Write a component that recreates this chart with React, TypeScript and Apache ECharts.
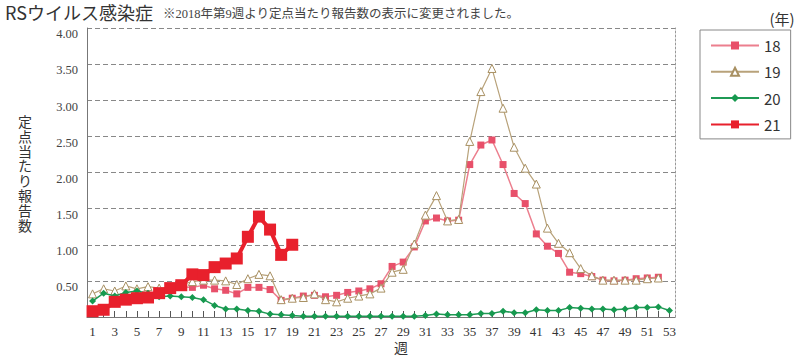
import React, { useEffect, useRef } from "react";
import * as echarts from "echarts";

const weeks: string[] = Array.from({ length: 53 }, (_, i) => String(i + 1));

const yTicks = [0, 0.5, 1, 1.5, 2, 2.5, 3, 3.5, 4];

const seriesNames = ["18", "19", "20", "21"];

const y2018: (number | null)[] = [
  null, null, null, null, null, null, null, null, 0.42, 0.41,
  0.44, 0.39, 0.37, 0.32, 0.41, 0.41, 0.38, 0.23, 0.26, 0.29,
  0.3, 0.28, 0.3, 0.34, 0.36, 0.39, 0.46, 0.7, 0.76, 0.97,
  1.33, 1.37, 1.33, 1.34, 2.11, 2.38, 2.45, 2.11, 1.71, 1.57,
  1.15, 0.98, 0.88, 0.62, 0.6, 0.56, 0.51, 0.5, 0.51, 0.53,
  0.54, 0.55, null,
];

const y2019: (number | null)[] = [
  0.32, 0.39, 0.36, 0.43, 0.39, 0.42, 0.4, 0.41, 0.45, 0.49,
  0.51, 0.51, 0.5, 0.45, 0.53, 0.59, 0.57, 0.24, 0.26, 0.27,
  0.32, 0.24, 0.21, 0.26, 0.29, 0.32, 0.4, 0.62, 0.66, 1.01,
  1.41, 1.68, 1.33, 1.35, 2.43, 3.12, 3.44, 2.89, 2.35, 2.06,
  1.84, 1.23, 1.02, 0.89, 0.67, 0.57, 0.51, 0.51, 0.51, 0.51,
  0.53, 0.54, null,
];

const y2020: number[] = [
  0.22, 0.33, 0.29, 0.34, 0.36, 0.33, 0.28, 0.29, 0.28, 0.27,
  0.24, 0.16, 0.11, 0.11, 0.09, 0.08, 0.04, 0.03, 0.02, 0.01,
  0.01, 0.01, 0.01, 0.01, 0.01, 0.01, 0.01, 0.01, 0.01, 0.01,
  0.02, 0.04, 0.03, 0.03, 0.03, 0.05, 0.05, 0.08, 0.06, 0.06,
  0.1, 0.09, 0.09, 0.13, 0.12, 0.11, 0.11, 0.1, 0.11, 0.13,
  0.13, 0.14, 0.09,
];

const y2021: number[] = [
  0.08, 0.1, 0.21, 0.24, 0.26, 0.27, 0.33, 0.4, 0.44, 0.59,
  0.58, 0.69, 0.74, 0.81, 1.11, 1.39, 1.21, 0.86, 1.0,
];

const titleText = "RSウイルス感染症";
const noteText = "※2018年第9週より定点当たり報告数の表示に変更されました。";
const yName = "定点当たり報告数";
const xName = "週";
const legendUnit = "(年)";

const serif = "Liberation Serif, DejaVu Serif, Noto Sans CJK JP, serif";
const sans = "Noto Sans CJK JP, Noto Sans, sans-serif";

export default function App() {
  const ref = useRef<HTMLDivElement>(null);

  useEffect(() => {
    if (!ref.current) return;
    const chart = echarts.init(ref.current, null, { renderer: "svg" });
    const yNameChars = yName.split("").map((ch, i) => ({
      type: "text",
      x: 25,
      y: 121 + i * 14.8,
      style: {
        text: ch,
        fontFamily: sans,
        fontSize: 14,
        lineHeight: 14,
        align: "center",
        verticalAlign: "middle",
        fill: "#333",
      },
    }));
    const option: any = {
      animation: false,
      backgroundColor: "#ffffff",
      grid: { left: 87, right: 125, top: 28, bottom: 42, containLabel: false },
      legend: {
        orient: "vertical",
        left: 700,
        top: 30,
        padding: [8, 10, 7, 10],
        itemGap: 11.3,
        itemWidth: 48,
        itemHeight: 10,
        borderColor: "#888",
        borderWidth: 1,
        textStyle: { fontFamily: sans, fontSize: 15, lineHeight: 14, color: "#333" },
        data: seriesNames,
      },
      xAxis: {
        type: "category",
        data: weeks,
        boundaryGap: true,
        axisLine: { lineStyle: { color: "#777", width: 1 } },
        axisTick: {
          show: true,
          inside: true,
          length: 6,
          alignWithLabel: true,
          interval: 0,
          lineStyle: { color: "#555" },
        },
        axisLabel: {
          interval: 1,
          fontFamily: serif,
          fontSize: 13,
          color: "#333",
          margin: 8,
        },
        splitLine: { show: false },
      },
      yAxis: [
        {
          type: "value",
          min: yTicks[0],
          max: yTicks[yTicks.length - 1],
          interval: 0.5,
          axisLine: { show: true, lineStyle: { color: "#777" } },
          axisTick: { show: false },
          axisLabel: {
            fontFamily: serif,
            fontSize: 12.5,
            color: "#444",
            margin: 9,
            verticalAlign: "top",
            formatter: (v: number) => (v === 0 ? "" : v.toFixed(2)),
          },
          splitLine: {
            show: true,
            lineStyle: { color: "#888", type: [5, 3], width: 1 },
          },
        },
        {
          type: "value",
          position: "right",
          min: yTicks[0],
          max: yTicks[yTicks.length - 1],
          interval: 0.5,
          axisLine: { show: true, lineStyle: { color: "#999", type: [2, 2] } },
          axisTick: { show: false },
          axisLabel: { show: false },
          splitLine: { show: false },
        },
      ],
      series: [
        {
          name: seriesNames[0],
          type: "line",
          data: y2018,
          symbol: "rect",
          symbolSize: 7,
          showAllSymbol: true,
          lineStyle: { color: "#ec7f8e", width: 1.5 },
          itemStyle: { color: "#e8506a" },
          connectNulls: false,
          z: 2,
        },
        {
          name: seriesNames[1],
          type: "line",
          data: y2019,
          symbol: "triangle",
          symbolSize: 8,
          showAllSymbol: true,
          lineStyle: { color: "#b8a27a", width: 1.2 },
          itemStyle: { color: "#ffffff", borderColor: "#a89062", borderWidth: 1 },
          z: 3,
        },
        {
          name: seriesNames[2],
          type: "line",
          data: y2020,
          symbol: "diamond",
          symbolSize: 7,
          showAllSymbol: true,
          lineStyle: { color: "#1f9a55", width: 1.5 },
          itemStyle: { color: "#16994f" },
          z: 4,
        },
        {
          name: seriesNames[3],
          type: "line",
          data: y2021,
          symbol: "rect",
          symbolSize: 12,
          showAllSymbol: true,
          lineStyle: { color: "#e8202c", width: 4 },
          itemStyle: { color: "#e8202c" },
          z: 5,
        },
      ],
      graphic: [
        {
          type: "text",
          x: 5,
          y: 12,
          style: {
            text: titleText,
            fontFamily: sans,
            fontSize: 18,
            lineHeight: 18,
            align: "left",
            verticalAlign: "middle",
            fill: "#333",
          },
        },
        {
          type: "text",
          x: 163,
          y: 14,
          style: {
            text: noteText,
            fontFamily: serif,
            fontSize: 12.5,
            lineHeight: 13,
            align: "left",
            verticalAlign: "middle",
            fill: "#444",
          },
        },
        {
          type: "text",
          x: 782,
          y: 18,
          style: {
            text: legendUnit,
            fontFamily: sans,
            fontSize: 15,
            lineHeight: 15,
            align: "center",
            verticalAlign: "middle",
            fill: "#333",
          },
        },
        ...yNameChars,
        {
          type: "text",
          x: 401,
          y: 347,
          style: {
            text: xName,
            fontFamily: sans,
            fontSize: 14,
            lineHeight: 14,
            align: "center",
            verticalAlign: "middle",
            fill: "#333",
          },
        },
      ],
    };
    chart.setOption(option);
    return () => chart.dispose();
  }, []);

  return (
    <div
      ref={ref}
      style={{ position: "absolute", left: 0, top: 0, width: 800, height: 359 }}
    />
  );
}
